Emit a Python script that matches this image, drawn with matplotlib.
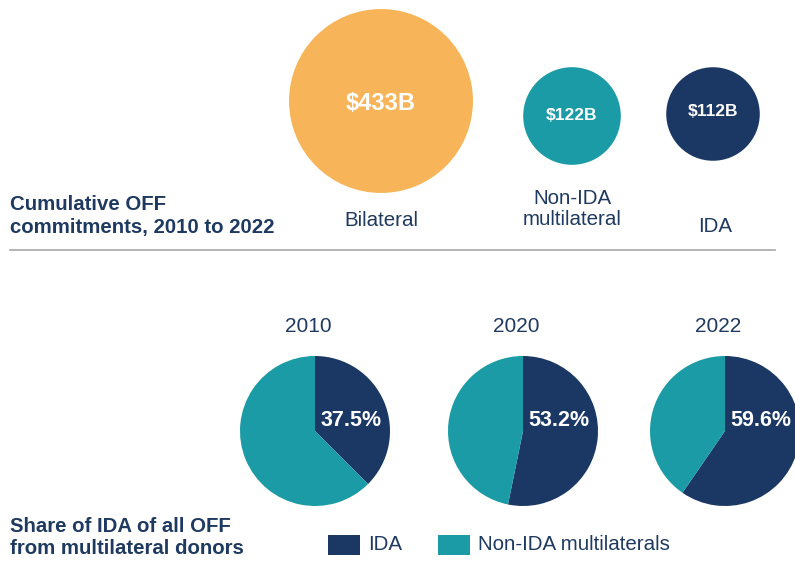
# Cumulative OFF commitments bubbles + IDA share pies
import matplotlib.pyplot as plt
import numpy as np

# bubble data (billions USD)
donor_groups = ["Bilateral", "Non-IDA\nmultilateral", "IDA"]
commitments = [433, 122, 112]
commitment_labels = ["$433B", "$122B", "$112B"]

# pie data (share of IDA in multilateral OFF, %)
years = ["2010", "2020", "2022"]
ida_share = [37.5, 53.2, 59.6]
legend_labels = ["IDA", "Non-IDA multilaterals"]

ORANGE = "#F7B458"
TEAL = "#1B9BA5"
NAVY = "#1B3865"
TEXT = "#1F3A60"

plt.rcParams['font.family'] = ['Liberation Sans', 'DejaVu Sans']

W, H = 795, 568
fig = plt.figure(figsize=(W / 100, H / 100), dpi=100)
ax = fig.add_axes([0, 0, 1, 1])


def py(y):
    # pixel row from top -> data y
    return H - y


# --- bubbles: area proportional to value ---
bubble_x = [381, 572, 713]
bubble_y = [101, 116, 114]
bubble_colors = [ORANGE, TEAL, NAVY]
scale = 40.5  # points^2 per billion
ax.scatter(bubble_x, [py(y) for y in bubble_y],
           s=np.array(commitments) * scale, c=bubble_colors, linewidths=0)
label_sizes = [17, 12.5, 12.5]
label_dy = [2, 0, -2]
for x, y, lab, fs, dy in zip(bubble_x, bubble_y, commitment_labels,
                             label_sizes, label_dy):
    ax.text(x, py(y + dy), lab, color="white", fontsize=fs, fontweight="bold",
            ha="center", va="center")

name_pos = [(381, 220), (572, 209), (715, 226)]
for (x, y), name in zip(name_pos, donor_groups):
    ax.text(x, py(y), name, color=TEXT, fontsize=14.8, ha="center",
            va="center", linespacing=1.15)

ax.text(10, py(216), "Cumulative OFF\ncommitments, 2010 to 2022", color=TEXT,
        fontsize=14.7, fontweight="bold", ha="left", va="center",
        linespacing=1.2)

ax.plot([10, 775], [py(250), py(250)], color="#A8A8A8", lw=1.2)

# --- pies ---
pie_x = [315, 523, 725]
pie_y = 431
radius = 75
for x, yr, share in zip(pie_x, years, ida_share):
    ax.pie([share, 100 - share], colors=[NAVY, TEAL], startangle=90,
           counterclock=False, center=(x, py(pie_y)), radius=radius,
           wedgeprops=dict(linewidth=0))
    ax.text(x - 7, py(326), yr, color=TEXT, fontsize=15, ha="center",
            va="center")
    ax.text(x + 36, py(421), f"{share}%", color="white", fontsize=15.5,
            fontweight="bold", ha="center", va="center")

ax.text(10, py(537), "Share of IDA of all OFF\nfrom multilateral donors",
        color=TEXT, fontsize=14.7, fontweight="bold", ha="left", va="center",
        linespacing=1.2)

# legend
ax.bar([344, 454], [20, 20], width=32, bottom=py(555), color=[NAVY, TEAL])
ax.text(368, py(545), legend_labels[0], color=TEXT, fontsize=14.8,
        va="center")
ax.text(478, py(545), legend_labels[1], color=TEXT, fontsize=14.8,
        va="center")

ax.set_xlim(0, W)
ax.set_ylim(0, H)
ax.set_aspect("auto")
ax.axis("off")

fig.savefig("out.png", dpi=100, facecolor="white")
